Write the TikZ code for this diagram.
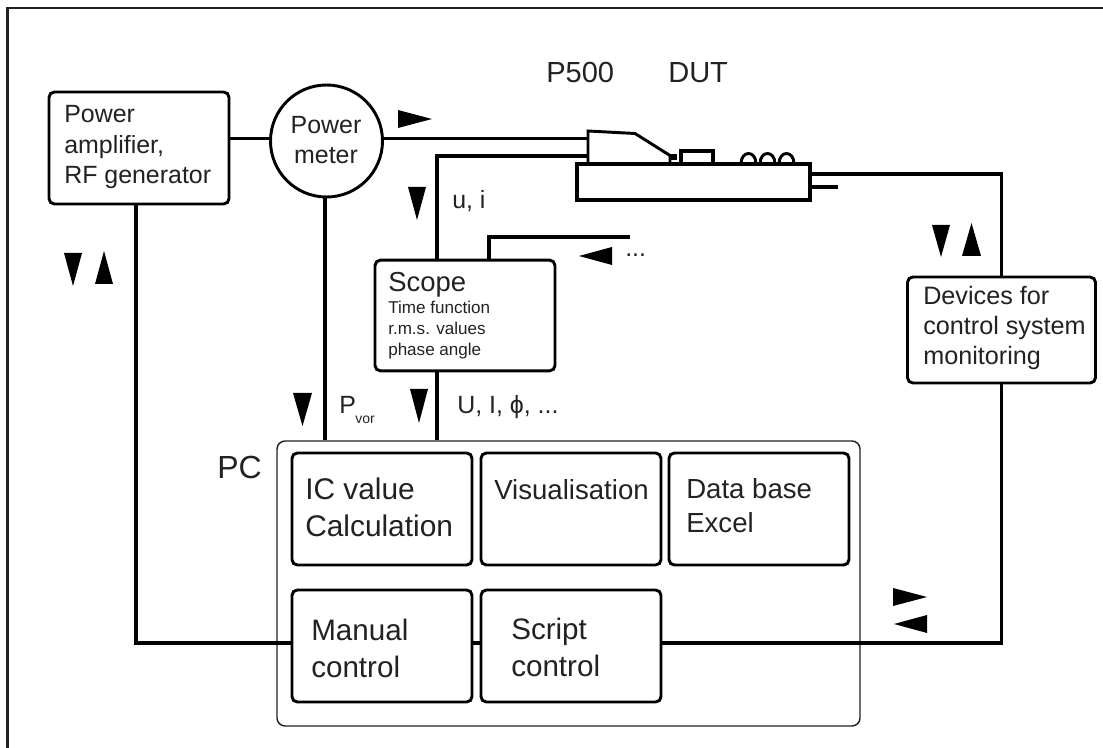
\documentclass[tikz,border=0pt]{standalone}
\usepackage{fontspec}
\setmainfont{Liberation Sans}
\definecolor{ink}{HTML}{222222}
\tikzset{
  x=0.75pt,y=-0.75pt,
  wire/.style={line width=2.6pt,black,line cap=butt,line join=miter},
  blockbox/.style={draw=black,line width=2.2pt,rounded corners=4pt,inner sep=0pt,fill=white},
  pcbox/.style={draw=ink,line width=1.1pt,rounded corners=6pt,inner sep=0pt},
  dutbox/.style={rectangle,draw=black,line width=2.4pt,inner sep=0pt,fill=white},
  frameline/.style={line width=1.9pt,draw=ink},
  dutline/.style={line width=2.2pt,black,line join=miter},
  tri/.style={fill=black,draw=none},
  txt/.style={anchor=base west,inner sep=0pt,text=ink,align=left},
  ctr/.style={anchor=base,inner sep=0pt,text=ink,align=center},
}
\newcommand{\fs}[2]{\fontsize{#1}{#2}\selectfont}
\begin{document}
\begin{tikzpicture}
\useasboundingbox (0,0) rectangle (1103,748);
% outer frame (only top and left edges show)
\coordinate (fA) at (1103,8);
\coordinate (fB) at (7.5,8);
\coordinate (fC) at (7.5,748);
\draw[frameline] (fA) -- (fB) -- (fC);
% helper coordinates
\coordinate (w138) at (0,138.5);
\coordinate (w156) at (0,156);
\coordinate (w174) at (0,174);
\coordinate (w187) at (0,187);
\coordinate (w643) at (0,643);
\coordinate (x136) at (136,0);
\coordinate (x325) at (325,0);
\coordinate (x437) at (437,0);
\coordinate (x489) at (489,0);
\coordinate (probeIn) at (588,0);
\coordinate (dutStub) at (838,187);
\coordinate (freeEnd) at (630,237);
% boxes
\node[pcbox,minimum width=437.25pt,minimum height=213.75pt] (pc) at (568.5,583.5) {};
\node[blockbox,minimum width=135pt,minimum height=84pt] (amp) at (139,148) {};
\node[blockbox,circle,rounded corners=0pt,minimum size=84pt] (meter) at (326.5,141) {};
\node[blockbox,minimum width=135pt,minimum height=83pt] (scope) at (465,315.5) {};
\node[blockbox,minimum width=141pt,minimum height=79.5pt] (devices) at (1001.5,330) {};
\node[blockbox,minimum width=135pt,minimum height=84pt] (ic) at (382,509) {};
\node[blockbox,minimum width=135pt,minimum height=84pt] (vis) at (571,509) {};
\node[blockbox,minimum width=135pt,minimum height=84pt] (data) at (759,509) {};
\node[blockbox,minimum width=135pt,minimum height=84pt] (manual) at (382,646) {};
\node[blockbox,minimum width=135pt,minimum height=84pt] (script) at (571,646) {};
\node[dutbox,minimum width=174.75pt,minimum height=27pt] (dutbase) at (693.5,182) {};
\node[dutbox,minimum width=24pt,minimum height=9.75pt] (dutpart) at (697,157.5) {};
% connectors
\draw[wire] (amp.east |- w138) -- (meter.west |- w138);
\draw[wire] (meter.east |- w138) -- (probeIn |- w138);
\draw[wire] (x325 |- meter.south) -- (x325 |- pc.north);
\draw[wire] (probeIn |- w156) -- (x437 |- w156) -- (x437 |- scope.north);
\draw[wire] (x437 |- scope.south) -- (x437 |- pc.north);
\draw[wire] (freeEnd) -- (x489 |- freeEnd) -- (x489 |- scope.north);
\draw[wire] (dutbase.east |- w174) -| (devices.north);
\draw[wire] (dutbase.east |- w187) -- (dutStub);
\draw[wire] (devices.south) -- (devices.south |- w643) -- (script.east |- w643);
\draw[wire] (script.west |- w643) -- (manual.east |- w643);
\draw[wire] (x136 |- amp.south) -- (x136 |- w643) -- (manual.west |- w643);
% P500 probe
\draw[dutline] (588,164) -- (588,131) -- (635,133.5) -- (670,155.5) -- (670,164);
\fill[black] (669,154) rectangle (677,160);
% DUT coils
\draw[dutline] (741,164) .. controls (741,150) and (756,150) .. (756,164);
\draw[dutline] (760,164) .. controls (760,150) and (775,150) .. (775,164);
\draw[dutline] (779,164) .. controls (779,150) and (794,150) .. (794,164);
% triangles
\fill[tri] (398,110) -- (432,119) -- (398,128) -- cycle;
\fill[tri] (64,253) -- (82,253) -- (73,286) -- cycle;
\fill[tri] (95,284) -- (113,284) -- (104,251) -- cycle;
\fill[tri] (408,187) -- (426,187) -- (417,220) -- cycle;
\fill[tri] (612,247) -- (612,265) -- (579,256) -- cycle;
\fill[tri] (293,393) -- (312,393) -- (302.5,426) -- cycle;
\fill[tri] (410,389) -- (428,389) -- (419,423) -- cycle;
\fill[tri] (932,225) -- (950,225) -- (941,257) -- cycle;
\fill[tri] (962,256) -- (981,256) -- (971.5,223) -- cycle;
\fill[tri] (893,588) -- (927,597) -- (893,606) -- cycle;
\fill[tri] (927,615) -- (927,633) -- (894,624) -- cycle;
% texts (a multi-line node's base is its last line)
\node[txt,font=\fs{18.7}{23}] (tAmp) at (64,184) {Power\\amplifier,\\RF generator};
\node[ctr,font=\fs{18.7}{22.5}] (tMeter) at (326,164) {Power\\meter};
\node[txt,font=\fs{21.8}{26}] (tP) at (546,83) {P500};
\node[txt,font=\fs{21.8}{26}] (tD) at (668,83) {DUT};
\node[txt,font=\fs{18.7}{22}] (tUi) at (452,209) {u, i};
\node[txt,font=\fs{18.7}{22}] (tDots) at (625,257) {...};
\node[txt,font=\fs{20.6}{24}] (tScope) at (388,292) {Scope};
\node[txt,font=\fs{12.8}{16}] (tScope2) at (388,356) {Time function\\r.m.s. values\\phase angle};
\node[txt,font=\fs{18.7}{22}] (tP2) at (339,414) {P};
\node[txt,font=\fs{10.5}{12}] (tVor) at (355,424) {vor};
\node[txt,font=\fs{18.7}{22}] (tU) at (457,414) {U, I, \char"03D5, ...};
\node[txt,font=\fs{24}{28}] (tPC) at (217,478) {PC};
\node[txt,font=\fs{22.4}{27.75}] (tIC) at (305,536) {IC value\\Calculation};
\node[txt,font=\fs{20.7}{25}] (tVis) at (494,499) {Visualisation};
\node[txt,font=\fs{20.7}{25.5}] (tData) at (686,532) {Data base\\Excel};
\node[txt,font=\fs{22.2}{27.5}] (tMan) at (311,677) {Manual\\control};
\node[txt,font=\fs{22.2}{27.5}] (tScr) at (511,676) {Script\\control};
\node[txt,font=\fs{18.9}{22.5}] (tDev) at (923,365) {Devices for\\control system\\monitoring};
\end{tikzpicture}
\end{document}
